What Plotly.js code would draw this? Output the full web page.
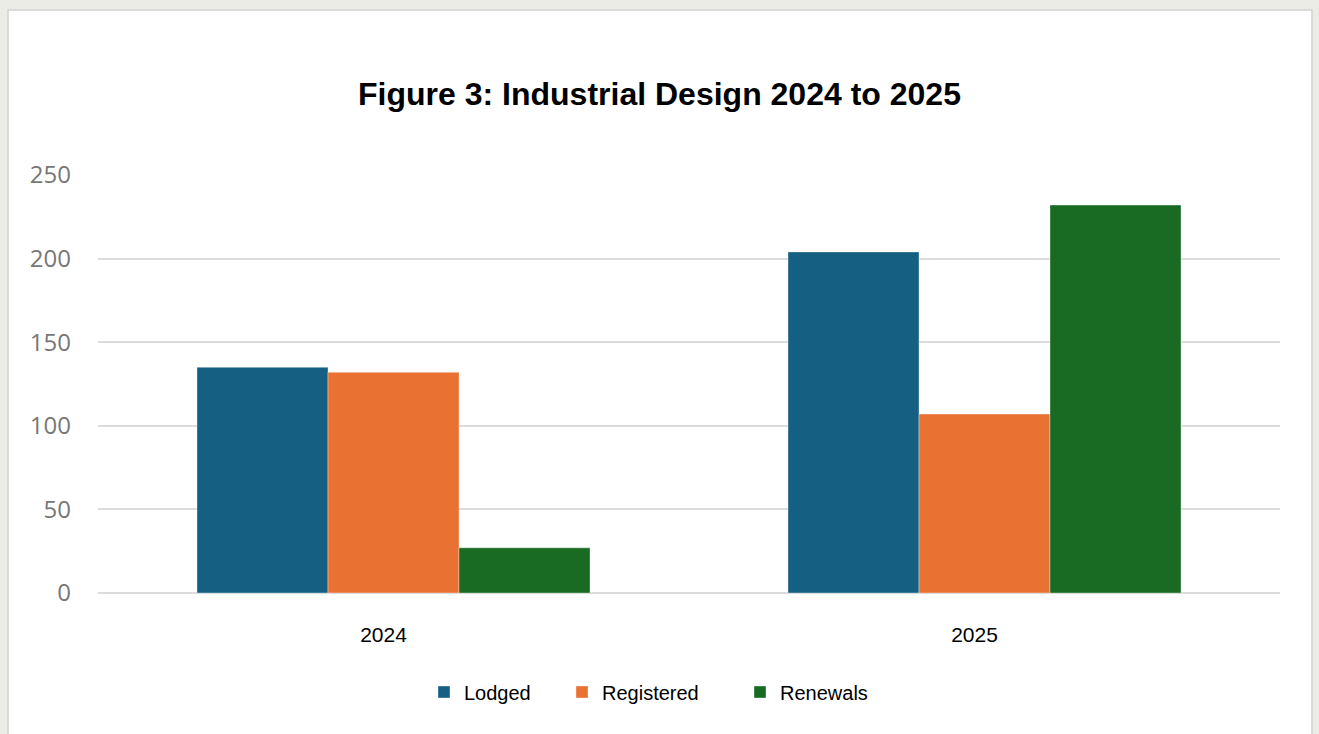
<!DOCTYPE html>
<html>
<head>
<meta charset="utf-8">
<script src="https://cdn.plot.ly/plotly-3.0.1.min.js"></script>
<style>
  html, body { margin:0; padding:0; width:1319px; height:734px; overflow:hidden; background:#ecece7; }
  #panel { position:absolute; left:7px; top:9px; width:1306px; height:800px; background:#ffffff; border:2px solid #dadada; box-sizing:border-box; }
  #chart { position:absolute; left:0; top:0; width:1319px; height:734px; }
</style>
</head>
<body>
<div id="panel"></div>
<div id="chart"></div>
<script>
const categories = ['2024', '2025'];
const lodged = [135, 204];
const registered = [132, 107];
const renewals = [27, 232];
const seriesNames = ['Lodged', 'Registered', 'Renewals'];
const yTicks = [0, 50, 100, 150, 200, 250];

const colors = ['#156082', '#E97132', '#196B24'];
const values = [lodged, registered, renewals];

const traces = values.map((v, i) => ({
  type: 'bar',
  name: seriesNames[i],
  x: categories,
  y: v,
  marker: { color: colors[i], line: { color: 'rgba(255,255,255,0.35)', width: 1 } },
  legend: i === 0 ? 'legend' : 'legend' + (i + 1),
  hoverinfo: 'skip'
}));

const L = 98, R = 1280, T = 175, B = 593;
function px2x(p) { return (p - L) / (R - L); }
function py2y(p) { return (B - p) / (B - T); }
const legendFont = { family: 'Liberation Sans, Arial, sans-serif', size: 20, color: '#000000' };
function leg(pxLeft) {
  return { x: px2x(pxLeft), xanchor: 'left', y: py2y(692), yanchor: 'middle',
           orientation: 'h', bgcolor: 'rgba(0,0,0,0)', borderwidth: 0, font: legendFont,
           itemclick: false, itemdoubleclick: false };
}

const layout = {
  width: 1319, height: 734,
  paper_bgcolor: 'rgba(0,0,0,0)',
  plot_bgcolor: 'rgba(0,0,0,0)',
  margin: { l: L, r: 1319 - R, t: T, b: 734 - B, pad: 0 },
  title: {
    text: '<b>Figure 3: Industrial Design 2024 to 2025</b>',
    font: { family: 'Liberation Sans, Arial, sans-serif', size: 32, color: '#000000' },
    x: 0.5, xanchor: 'center', xref: 'container',
    y: 1 - 94 / 734, yanchor: 'middle', yref: 'container'
  },
  barmode: 'group',
  bargap: 0.335,
  bargroupgap: 0,
  xaxis: {
    type: 'category',
    showgrid: false, showline: false, zeroline: false,
    tickfont: { family: 'Liberation Sans, Arial, sans-serif', size: 21, color: '#000000' },
    ticks: '', ticklabelstandoff: 27, ticklabelshift: -10
  },
  yaxis: {
    range: [0, 250],
    tickvals: yTicks,
    ticktext: yTicks.map(String),
    showgrid: true, gridcolor: '#dcdcdc', gridwidth: 2,
    zeroline: true, zerolinecolor: '#dcdcdc', zerolinewidth: 2,
    showline: false, ticks: '',
    tickfont: { family: 'Open Sans, sans-serif', size: 24, color: '#777777' },
    ticklabelstandoff: 26
  },
  showlegend: true,
  legend: leg(424),
  legend2: leg(562),
  legend3: leg(740)
};

Plotly.newPlot('chart', traces, layout, { displayModeBar: false, staticPlot: true });
</script>
</body>
</html>
